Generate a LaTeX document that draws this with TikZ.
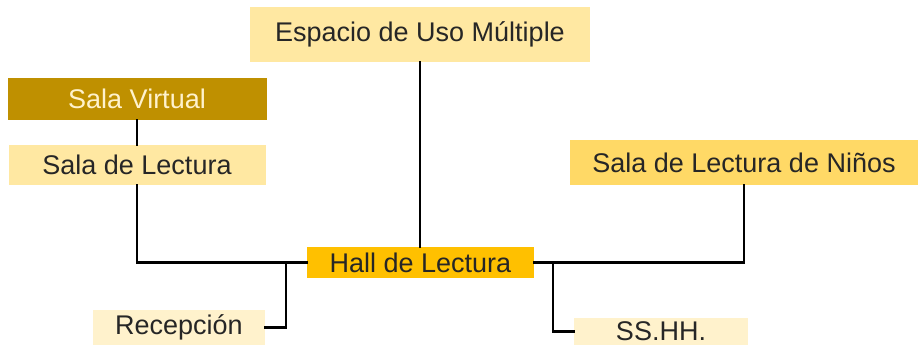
\documentclass[tikz,border=0pt]{standalone}
\usepackage{fontspec}
\setmainfont{Liberation Sans}
\usetikzlibrary{positioning}

\definecolor{oro}{HTML}{BF9000}
\definecolor{ambar}{HTML}{FFC000}
\definecolor{crema}{HTML}{FFE8A2}
\definecolor{mostaza}{HTML}{FFD966}
\definecolor{palido}{HTML}{FFF2CC}

\begin{document}
\begin{tikzpicture}[x=1pt, y=-1pt,
      area/.style={inner sep=0pt, font=\fontsize{27}{32}\selectfont, text=black!85},
      con/.style={line width=2.6pt, line cap=rect}]

    \useasboundingbox (0,0) rectangle (918,345);

    % ===== areas =====
    \node[area, fill=crema, minimum width=340pt, minimum height=55pt]
        (uso) at (420,34.5) {Espacio de Uso Múltiple};
    \node[area, fill=oro, text=palido, minimum width=259pt, minimum height=42pt]
        (virtual) at (137,99) {Sala Virtual};
    \node[area, fill=crema, minimum width=257pt, minimum height=40pt]
        (lectura) at (137,165) {Sala de Lectura};
    \node[area, fill=mostaza, minimum width=348pt, minimum height=45pt]
        (ninos) at (744,162.5) {Sala de Lectura de Niños};
    \node[area, fill=ambar, minimum width=227pt, minimum height=31pt]
        (hall) at (420.5,262.5) {Hall de Lectura};
    \node[area, fill=palido, minimum width=172pt, minimum height=35pt]
        (recep) at (179,327.5) {Recepción};
    \node[area, fill=palido, minimum width=174pt, minimum height=27pt]
        (sshh) at (661,331.5) {SS.HH.};

    % ===== conexiones =====
    \draw[con] (virtual.south) -- (lectura.north);
    \draw[con] (lectura.south) |- (hall.west);
    \draw[con] (uso.south) -- (uso.south |- hall.north);
    \draw[con] (hall.east) -| (ninos.south);
    \draw[con] (recep.east) -| (286,262.5);
    \draw[con] (sshh.west) -| (553,262.5);

\end{tikzpicture}
\end{document}
